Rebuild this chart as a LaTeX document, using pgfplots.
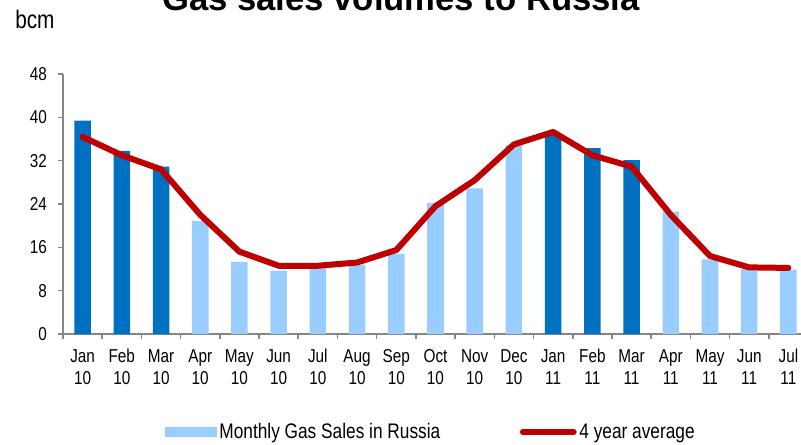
\documentclass[border=0pt]{standalone}
\usepackage{fontspec}
\setmainfont{Liberation Sans}[FakeStretch=0.82]
\newfontfamily\titlefont{Liberation Sans}
\usepackage{pgfplots}
\pgfplotsset{compat=1.18}
\definecolor{darkbar}{HTML}{0070C0}
\definecolor{lightbar}{HTML}{99CCFF}
\definecolor{avgred}{HTML}{C00000}
\definecolor{axgray}{HTML}{868686}
\newcommand{\tl}[2]{\strut #1\\\strut #2}
\begin{document}
\begin{tikzpicture}
\begin{axis}[
  name=ax,
  scale only axis,
  width=558.75pt, height=195pt,
  xmin=-0.5, xmax=18.5, ymin=0, ymax=48,
  axis x line*=bottom, axis y line*=left,
  axis line style={axgray, line width=1.5pt},
  tick style={axgray, line width=1.2pt},
  tick align=outside,
  major tick length=4pt,
  /pgf/number format/assume math mode=true,
  ytick={0,8,...,48},
  yticklabel style={font=\fontsize{14}{14}\selectfont, text=black, xshift=-4.5pt},
  xtick={-0.5,0.5,...,17.5},
  xticklabels={{\tl{Jan}{10}},{\tl{Feb}{10}},{\tl{Mar}{10}},{\tl{Apr}{10}},{\tl{May}{10}},{\tl{Jun}{10}},{\tl{Jul}{10}},{\tl{Aug}{10}},{\tl{Sep}{10}},{\tl{Oct}{10}},{\tl{Nov}{10}},{\tl{Dec}{10}},{\tl{Jan}{11}},{\tl{Feb}{11}},{\tl{Mar}{11}},{\tl{Apr}{11}},{\tl{May}{11}},{\tl{Jun}{11}},{\tl{Jul}{11}}},
  xticklabel style={font=\fontsize{14}{16.5}\selectfont, align=center, anchor=north, xshift=14.7pt, yshift=-2pt, text=black},
  legend style={at={(0.494,-0.377)}, anchor=center, draw=none, fill=none,
    legend columns=2, font=\fontsize{15.8}{16}\selectfont,
    /tikz/every even column/.append style={column sep=57.75pt}},
]
\addplot[ybar, bar width=12.4pt, bar shift=0pt, fill=lightbar, draw=none,
  legend image code/.code={\fill[lightbar] (0pt,-3.75pt) rectangle (39pt,3.75pt);}]
  coordinates {(3,20.9)(4,13.3)(5,11.7)(6,12.1)(7,12.8)(8,14.8)(9,24.2)(10,26.9)(11,34.9)(15,22.6)(16,13.8)(17,12.0)(18,11.9)};
\addlegendentry{Monthly Gas Sales in Russia}
\addplot[ybar, bar width=12.4pt, bar shift=0pt, fill=darkbar, draw=none, forget plot]
  coordinates {(0,39.4)(1,33.8)(2,30.9)(12,36.9)(13,34.3)(14,32.1)};
\addplot[avgred, line width=4.5pt, line join=round, line cap=round, mark=none,
  legend image code/.code={\draw[avgred, line width=4.3pt, line cap=round] (2.2pt,0pt) -- (40.5pt,0pt);}]
  coordinates {(0,36.4)(1,33.0)(2,30.4)(3,22.0)(4,15.2)(5,12.6)(6,12.6)(7,13.2)(8,15.5)(9,23.6)(10,28.4)(11,35.0)(12,37.3)(13,33.0)(14,30.9)(15,22.0)(16,14.4)(17,12.3)(18,12.2)};
\addlegendentry{4 year average}
\end{axis}
\node[anchor=base west, inner sep=0pt, font=\fontsize{19}{19}\selectfont] at ([xshift=-36pt, yshift=229.5pt]ax.south west) {bcm};
\node[anchor=base, inner sep=0pt, font=\titlefont\bfseries\fontsize{26}{30}\selectfont] at ([xshift=253.5pt, yshift=243pt]ax.south west) {Gas sales volumes to Russia};
\pgfresetboundingbox
\useasboundingbox ([xshift=-47.25pt,yshift=-82.5pt]ax.south west) rectangle ([xshift=-5.25pt,yshift=55.5pt]ax.north east);
\end{tikzpicture}
\end{document}
